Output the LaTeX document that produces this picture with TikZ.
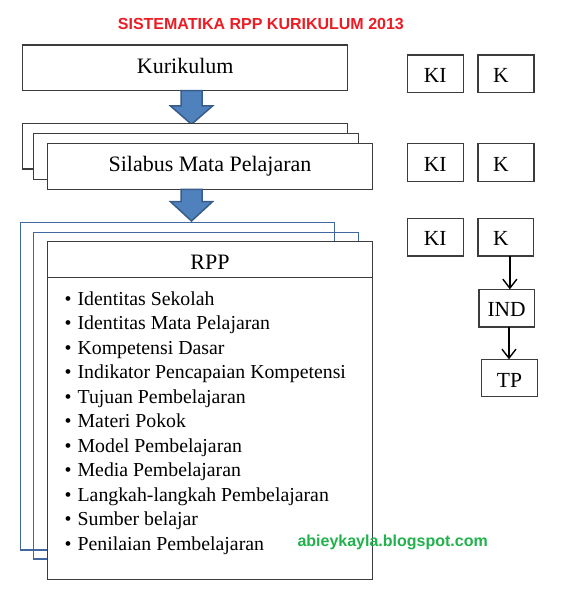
\documentclass[tikz,border=0pt]{standalone}
\usepackage{fontspec}
\setmainfont{Liberation Serif}
\newfontfamily\arialfont{Liberation Sans}
\usetikzlibrary{arrows.meta}
\definecolor{titlered}{RGB}{237,28,36}
\definecolor{wmgreen}{RGB}{34,177,76}
\definecolor{boxgray}{RGB}{60,60,60}
\definecolor{backblue}{RGB}{65,103,158}
\definecolor{arrfill}{RGB}{79,129,189}
\definecolor{arrline}{RGB}{56,93,138}
\begin{document}
\begin{tikzpicture}[x=1pt,y=-1pt,
  box/.style={draw=boxgray, line width=1.2pt, fill=white, inner sep=0pt, outer sep=0pt},
  big/.style={box, minimum width=325pt, minimum height=46pt, font=\fontsize{22}{26}\selectfont, text height=10.9pt, text depth=0pt},
  smallbox/.style={box, minimum width=56pt, minimum height=37.7pt, font=\fontsize{21.5}{25}\selectfont, text height=17.7pt, text depth=0pt},
  backgray/.style={draw=boxgray, line width=1.2pt, fill=white},
  backbl/.style={draw=backblue, line width=1.2pt},
  blockarr/.style={draw=arrline, fill=arrfill, line width=1.5pt, line join=miter},
  smallarr/.style={draw=black, line width=1.4pt, -{Straight Barb[length=9pt,width=14pt]}},
  item/.style={anchor=base west, inner sep=0pt, font=\fontsize{19.8}{24}\selectfont}
]
\fill[white] (0,0) rectangle (575,593);
\useasboundingbox (0,0) rectangle (575,593);

% title
\node[anchor=base, inner sep=0pt, text=titlered, font=\arialfont\bfseries\fontsize{16}{19}\selectfont] (title) at (260.9,30) {SISTEMATIKA RPP KURIKULUM 2013};

% Kurikulum
\node[big, minimum height=45.7pt] (kur) at (185.2,67.85) {Kurikulum};

% arrow 1
\draw[blockarr] (181,90.7) -- (202,90.7) -- (202,106) -- (212.5,106) -- (191.5,124.3) -- (170.5,106) -- (181,106) -- cycle;

% Silabus stack
\draw[backgray] (22.7,123.3) rectangle (347.7,169);
\draw[backgray] (33.7,133.7) rectangle (358.7,179.7);
\node[big] (sil) at (210,166.3) {Silabus Mata Pelajaran};

% arrow 2
\draw[blockarr] (181,189.3) -- (202,189.3) -- (202,201.7) -- (212.5,201.7) -- (191.5,221) -- (170.5,201.7) -- (181,201.7) -- cycle;

% RPP stack
\draw[backbl] (20.7,222.3) rectangle (334.3,550);
\draw[backbl] (33.7,232.3) rectangle (358.7,559);
\node[box, minimum width=324.6pt, minimum height=337.6pt] (rpp) at (210,410.5) {};
\draw[draw=boxgray, line width=1.2pt] (rpp.west |- 0,277.7) -- (rpp.east |- 0,277.7);
\node[anchor=base, inner sep=0pt, font=\fontsize{22}{26}\selectfont] (rpptitle) at (210,269.3) {RPP};

\foreach \t [count=\i] in {Identitas Sekolah, Identitas Mata Pelajaran, Kompetensi Dasar, Indikator Pencapaian Kompetensi, Tujuan Pembelajaran, Materi Pokok, Model Pembelajaran, Media Pembelajaran, Langkah-langkah Pembelajaran, Sumber belajar, Penilaian Pembelajaran}
  \node[item] (li\i) at (64.5,{305+24.5*(\i-1)}) {\textbullet\hspace{6pt}\t};

% watermark
\node[anchor=base west, inner sep=0pt, text=wmgreen, font=\arialfont\bfseries\fontsize{16}{19}\selectfont] (wm) at (297.3,546.7) {abieykayla.blogspot.com};

% right column
\node[smallbox] (ki1) at (435.3,73.85) {KI};
\node[smallbox] (k1) at (506,73.85) {K\kern10pt};
\node[smallbox, minimum height=38pt] (ki2) at (435.3,162.3) {KI};
\node[smallbox, minimum height=38pt] (k2) at (506,162.3) {K\kern10pt};
\node[smallbox] (ki3) at (435.3,237.15) {KI};
\node[smallbox, minimum width=55.7pt] (k3) at (505.85,237.15) {K\kern10pt};
\node[smallbox, minimum width=55.3pt, text height=16pt] (ind) at (506.65,308.15) {IND};
\node[smallbox, minimum width=55.6pt, minimum height=37.4pt, text height=18pt] (tp) at (509.5,378) {TP};

\draw[smallarr] ([xshift=4pt]k3.south) -- ([xshift=4pt]k3.south |- ind.north);
\draw[smallarr] ([xshift=2.3pt]ind.south) -- ([xshift=2.3pt]ind.south |- tp.north);
\end{tikzpicture}
\end{document}
